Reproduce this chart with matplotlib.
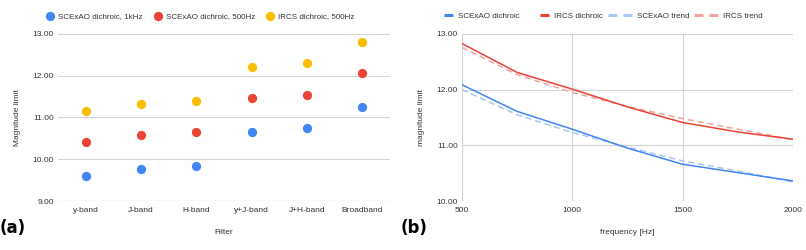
import numpy as np
import matplotlib.pyplot as plt
from matplotlib.lines import Line2D

plt.rcParams["font.family"] = ["Liberation Sans", "DejaVu Sans"]

# Panel (a): magnitude limit per filter
FILTERS = ["y-band", "J-band", "H-band", "y+J-band", "J+H-band", "Broadband"]
SCEXAO_1KHZ = [9.60, 9.76, 9.83, 10.66, 10.74, 11.25]
SCEXAO_500HZ = [10.41, 10.58, 10.65, 11.47, 11.55, 12.06]
IRCS_500HZ = [11.16, 11.32, 11.40, 12.22, 12.31, 12.81]

# Panel (b): magnitude limit against loop frequency
FREQ = [500, 750, 1000, 1250, 1500, 1750, 2000]
SCEXAO_CURVE = [12.09, 11.61, 11.29, 10.95, 10.66, 10.51, 10.36]
IRCS_CURVE = [12.83, 12.31, 12.01, 11.69, 11.41, 11.24, 11.11]
SCEXAO_TREND = [12.00, 11.55, 11.23, 10.97, 10.72, 10.54, 10.34]
IRCS_TREND = [12.76, 12.27, 11.95, 11.70, 11.48, 11.29, 11.10]

BLUE = "#4285F4"
RED = "#EA4335"
YELLOW = "#FBBC04"
LIGHT_BLUE = "#A8C6F8"
LIGHT_RED = "#F3A6A0"
GRID = "#d4d4d4"
TEXT = "#333333"
FS = 6


def style_axes(ax):
    for spine in ax.spines.values():
        spine.set_visible(False)
    ax.tick_params(length=0, labelsize=FS, colors=TEXT)
    ax.tick_params(axis="x", pad=4)
    ax.tick_params(axis="y", pad=3)
    ax.set_axisbelow(True)


fig = plt.figure(figsize=(8.06, 2.5), dpi=100)

# ---- (a) scatter ----
ax1 = fig.add_axes([0.072, 0.196, 0.412, 0.668])
style_axes(ax1)
x = np.arange(len(FILTERS))
ax1.scatter(x, SCEXAO_1KHZ, s=32, color=BLUE, label="SCExAO dichroic, 1kHz", zorder=3)
ax1.scatter(x, SCEXAO_500HZ, s=32, color=RED, label="SCExAO dichroic, 500Hz", zorder=3)
ax1.scatter(x, IRCS_500HZ, s=32, color=YELLOW, label="IRCS dichroic, 500Hz", zorder=3)
ax1.set_xlim(-0.5, len(FILTERS) - 0.5)
ax1.set_ylim(9, 13)
ax1.set_yticks([9, 10, 11, 12, 13])
ax1.set_yticklabels([f"{v:.2f}" for v in [9, 10, 11, 12, 13]])
ax1.set_xticks(x)
ax1.set_xticklabels(FILTERS)
ax1.grid(axis="y", color=GRID, linewidth=0.8)
ax1.axhline(9, color="#bdbdbd", linewidth=0.8, zorder=1)
ax1.set_xlabel("Filter", fontsize=FS, color=TEXT, labelpad=11)
ax1.set_ylabel("Magnitude limit", fontsize=FS, color=TEXT, labelpad=8)
ax1.legend(loc="center", bbox_to_anchor=(0.427, 1.108), ncol=3, frameon=False,
           fontsize=5.8, handletextpad=0.4, columnspacing=1.3, handlelength=1.2,
           labelcolor=TEXT)

# ---- (b) lines ----
ax2 = fig.add_axes([0.573, 0.196, 0.411, 0.668])
style_axes(ax2)
ax2.plot(FREQ, SCEXAO_CURVE, color=BLUE, linewidth=1.1, zorder=3)
ax2.plot(FREQ, IRCS_CURVE, color=RED, linewidth=1.1, zorder=3)
ax2.plot(FREQ, SCEXAO_TREND, color=LIGHT_BLUE, linewidth=1.1, dashes=(4, 2.5), zorder=2)
ax2.plot(FREQ, IRCS_TREND, color=LIGHT_RED, linewidth=1.1, dashes=(4, 2.5), zorder=2)
ax2.set_xlim(500, 2000)
ax2.set_ylim(10, 13)
ax2.set_xticks([500, 1000, 1500, 2000])
ax2.set_yticks([10, 11, 12, 13])
ax2.set_yticklabels([f"{v:.2f}" for v in [10, 11, 12, 13]])
ax2.grid(color=GRID, linewidth=0.8)
ax2.set_xlabel("frequency [Hz]", fontsize=FS, color=TEXT, labelpad=11)
ax2.set_ylabel("magnitude limit", fontsize=FS, color=TEXT, labelpad=8)

# legend: solid series show a short bar at the right end of the handle,
# trend series show two dashes
solid_style = (11.65, (2.95, 13.6))
legend_handles = [
    Line2D([], [], color=BLUE, linewidth=2.2, linestyle=solid_style),
    Line2D([], [], color=RED, linewidth=2.2, linestyle=solid_style),
    Line2D([], [], color=LIGHT_BLUE, linewidth=2.2, dashes=(2.95, 1.95)),
    Line2D([], [], color=LIGHT_RED, linewidth=2.2, dashes=(2.95, 1.95)),
]
legend_labels = ["SCExAO dichroic", "IRCS dichroic", "SCExAO trend", "IRCS trend"]
ax2.legend(legend_handles, legend_labels, loc="center", bbox_to_anchor=(0.405, 1.108),
           ncol=4, frameon=False, fontsize=5.8, handlelength=3.0, handletextpad=0.6,
           columnspacing=0.62, labelcolor=TEXT)

# panel letters
fig.text(0.0, 0.068, "(a)", fontsize=12, fontweight="bold", family="DejaVu Sans")
fig.text(0.497, 0.068, "(b)", fontsize=12, fontweight="bold", family="DejaVu Sans")

fig.savefig("out.png", dpi=100)
